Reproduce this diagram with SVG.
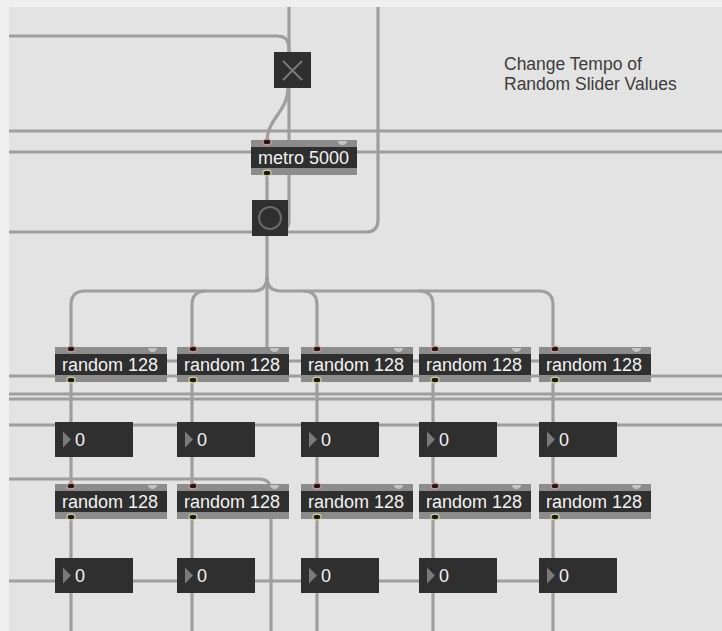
<svg xmlns="http://www.w3.org/2000/svg" xmlns:xlink="http://www.w3.org/1999/xlink" width="722" height="631" viewBox="0 0 722 631">
<style>
.bg{fill:#e3e3e3}
.c{fill:none;stroke:#9e9e9e;stroke-width:3.2}
.ci{fill:none;stroke:#8a8a8a;stroke-width:1}
.box{fill:#2f2f2f}
.strip{fill:#8c8c8c}
.t{font-family:"Liberation Sans",Arial,sans-serif;font-size:18px;fill:#f2f2f2}
.note{font-family:"Liberation Sans",Arial,sans-serif;font-size:17.5px;fill:#3c3c3c}
.inl{fill:#1a1a1a;stroke:#d99a9a;stroke-width:1.2}
.outl{fill:#1a1a1a;stroke:#d4d49a;stroke-width:1.2}
.rin{fill:#c4c4c4}
.tri{fill:#7a7a7a}
</style>
<defs>
<g id="rnd">
<rect class="strip" x="0" y="0" width="112" height="35"/>
<rect class="box" x="0" y="7" width="112" height="21"/>
<text class="t" x="7" y="24">random 128</text>
<ellipse class="inl" cx="16" cy="2" rx="4" ry="2.8"/>
<ellipse class="outl" cx="16" cy="33" rx="4" ry="2.8"/>
<path class="rin" d="M93 1 h9 a4.5 4 0 0 1 -9 0z"/>
</g>
<g id="num">
<rect class="box" x="0" y="0" width="78" height="35"/>
<path class="tri" d="M8 9.5 L16 17.5 L8 25.5z"/>
<text class="t" x="20" y="24">0</text>
</g>
</defs>
<rect x="0" y="0" width="722" height="631" fill="#efefef"/>
<rect class="bg" x="9" y="7" width="713" height="624"/>

<text class="note" x="504" y="70">Change Tempo of</text>
<text class="note" x="504" y="90">Random Slider Values</text>

<g id="connectors">
<path class="c" d="M289 7 V220 Q289 232 277 232 H9"/>
<path class="c" d="M9 36 H277 Q289 36 289 48 V52"/>
<path class="c" d="M378 7 V220 Q378 232 366 232 H280"/>
<path class="c" d="M288 88 C288 112 267 118 267 142"/>
<path class="c" d="M9 131 H722"/>
<path class="c" d="M9 152 H722"/>
<path class="c" d="M267 175 V350"/>
<path class="c" d="M267 277 Q267 291 253 291 H85 Q71 291 71 305 V348"/>
<path class="c" d="M267 277 Q267 291 281 291 H539 Q553 291 553 305 V348"/>
<path class="c" d="M206 291 Q192 291 192 305 V348"/>
<path class="c" d="M303 291 Q317 291 317 305 V348"/>
<path class="c" d="M419 291 Q433 291 433 305 V348"/>
<path class="c" d="M167 361 H539"/>
<path class="c" d="M9 376 H722"/>
<path class="c" d="M9 394 H722"/>
<path class="c" d="M9 399 H722"/>
<path class="c" d="M9 425 H722"/>
<path class="c" d="M71 382 V483"/>
<path class="c" d="M192 382 V483"/>
<path class="c" d="M317 382 V483"/>
<path class="c" d="M433 382 V483"/>
<path class="c" d="M553 382 V483"/>
<path class="c" d="M9 479 H259 Q271 479 271 491 V631"/>
<path class="c" d="M71 519 V631"/>
<path class="c" d="M192 519 V631"/>
<path class="c" d="M317 519 V631"/>
<path class="c" d="M433 519 V631"/>
<path class="c" d="M553 519 V631"/>
<path class="c" d="M9 581 H539"/>
</g>

<g id="toggle">
<rect class="box" x="274" y="52" width="37" height="36"/>
<path d="M283 61 L302 80 M302 61 L283 80" stroke="#7a7a7a" stroke-width="2" fill="none"/>
</g>

<g id="metro">
<rect class="strip" x="251" y="140" width="106" height="35"/>
<rect class="box" x="251" y="147" width="106" height="21"/>
<text class="t" x="258" y="164">metro 5000</text>
<ellipse class="inl" cx="267" cy="142" rx="4" ry="2.8"/>
<ellipse class="outl" cx="267" cy="173" rx="4" ry="2.8"/>
<path class="rin" d="M338 141 h9 a4.5 4 0 0 1 -9 0z"/>
</g>

<g id="button">
<rect class="box" x="252" y="200" width="36" height="36"/>
<circle cx="270" cy="218" r="11" fill="none" stroke="#6a6a6a" stroke-width="2"/>
</g>

<g id="random1"><use xlink:href="#rnd" x="55" y="347"/></g>
<g id="random2"><use xlink:href="#rnd" x="177" y="347"/></g>
<g id="random3"><use xlink:href="#rnd" x="301" y="347"/></g>
<g id="random4"><use xlink:href="#rnd" x="419" y="347"/></g>
<g id="random5"><use xlink:href="#rnd" x="539" y="347"/></g>

<g id="number1"><use xlink:href="#num" x="55" y="422"/></g>
<g id="number2"><use xlink:href="#num" x="177" y="422"/></g>
<g id="number3"><use xlink:href="#num" x="301" y="422"/></g>
<g id="number4"><use xlink:href="#num" x="419" y="422"/></g>
<g id="number5"><use xlink:href="#num" x="539" y="422"/></g>

<g id="random6"><use xlink:href="#rnd" x="55" y="484"/></g>
<g id="random7"><use xlink:href="#rnd" x="177" y="484"/></g>
<g id="random8"><use xlink:href="#rnd" x="301" y="484"/></g>
<g id="random9"><use xlink:href="#rnd" x="419" y="484"/></g>
<g id="random10"><use xlink:href="#rnd" x="539" y="484"/></g>

<g id="number6"><use xlink:href="#num" x="55" y="558"/></g>
<g id="number7"><use xlink:href="#num" x="177" y="558"/></g>
<g id="number8"><use xlink:href="#num" x="301" y="558"/></g>
<g id="number9"><use xlink:href="#num" x="419" y="558"/></g>
<g id="number10"><use xlink:href="#num" x="539" y="558"/></g>
</svg>
